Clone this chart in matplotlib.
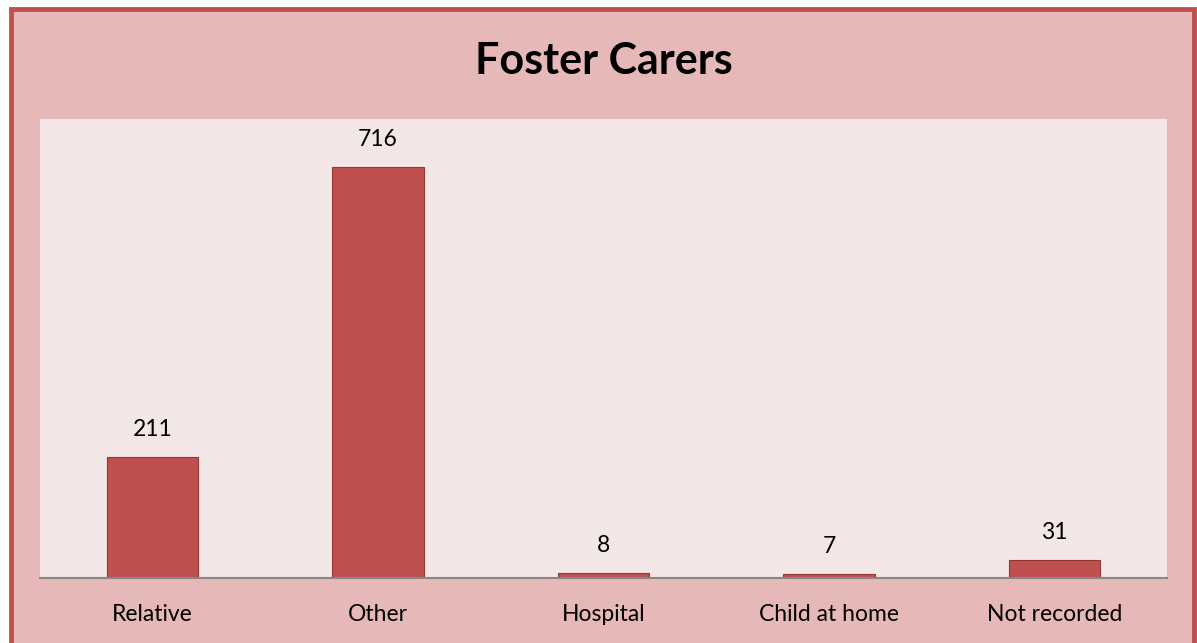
import matplotlib
matplotlib.use("Agg")
import matplotlib.pyplot as plt
from matplotlib.patches import Rectangle

categories = ["Relative", "Other", "Hospital", "Child at home", "Not recorded"]
values = [211, 716, 8, 7, 31]
title = "Foster Carers"

plt.rcParams['font.family'] = ['Lato', 'DejaVu Sans']

W, H = 1197, 643
fig = plt.figure(figsize=(W / 100, H / 100), dpi=100)
fig.patch.set_facecolor("white")

# chart area background + border
fig.patches.append(Rectangle((10.5 / W, -0.02), (1194 - 10.5) / W, (H - 9.0) / H + 0.02,
                             transform=fig.transFigure, facecolor="#E6B8B7",
                             edgecolor="#C0504D", linewidth=3.5, zorder=-10))

ax = fig.add_axes([40 / W, 65 / H, 1127 / W, 459 / H])
ax.set_zorder(5)
ax.set_facecolor("#F2E7E6")
x = list(range(len(categories)))
bars = ax.bar(x, values, width=0.405, color="#C0504D", edgecolor="#943634", linewidth=0.8, zorder=2)
ax.set_xlim(-0.5, len(categories) - 0.5)
ax.set_ylim(0, 800)
for s in ["top", "right", "left"]:
    ax.spines[s].set_visible(False)
ax.spines["bottom"].set_color("#888888")
ax.spines["bottom"].set_linewidth(1.5)
ax.set_yticks([])
ax.set_xticks(x)
ax.set_xticklabels(categories, fontsize=16.5)
ax.tick_params(axis="x", length=0, pad=19)
for xi, v in zip(x, values):
    ax.annotate(str(v), (xi, v), xytext=(0, 20), textcoords="offset points",
                ha="center", va="center", fontsize=16.5)

fig.text(604 / W, 1 - 61 / H, title, ha="center", va="center", fontsize=31, fontweight="bold")

fig.savefig("out.png", dpi=100, facecolor=fig.get_facecolor())
